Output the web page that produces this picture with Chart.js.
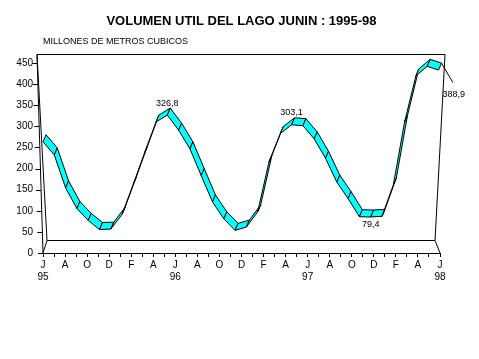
<!DOCTYPE html>
<html lang="es">
<head>
<meta charset="utf-8">
<title>Volumen util del lago Junin</title>
<script src="https://cdn.jsdelivr.net/npm/chart.js@4.4.1/dist/chart.umd.min.js"></script>
<style>
  html, body { margin: 0; padding: 0; background: #fff; }
  #wrap { width: 479px; height: 359px; }
</style>
</head>
<body>
<div id="wrap"><canvas id="grafico" width="479" height="359"></canvas></div>
<script>
// ─── datos ───────────────────────────────────────────────────────────────────
// meses de junio 1995 a junio 1998 (millones de m3)
const MES_LETRA = ['J', 'J', 'A', 'S', 'O', 'N', 'D', 'E', 'F', 'M', 'A', 'M']; // jun..may
const ANIOS = ['95', '96', '97', '98'];
const VOLUMEN = [
  262, 230, 150, 100, 71, 49, 50,          // jun-dic 95
  86, 160, 236, 310, 326.8, 290, 245, 180, 116, 75, 47, 55,   // ene-dic 96
  92, 213, 282, 303.1, 301, 269, 222, 164, 124, 80, 79.4, 81, // ene-dic 97
  157, 310, 422, 445, 436, 388.9,          // ene-jun 98
];
const Y_TICKS = [0, 50, 100, 150, 200, 250, 300, 350, 400, 450];
const MESES_CON_ETIQUETA = [11, 22, 29, 36];

const FUENTE = "'Liberation Sans', Arial, sans-serif";
const CIAN = '#00FFFF';

// ─── caja 3D + cinta ─────────────────────────────────────────────────────────
const px = (v) => Math.round(v) + 0.5;

const caja3d = {
  id: 'caja3d',
  beforeDatasetsDraw(chart) {
    const { ctx, chartArea: a, scales: { x, y } } = chart;
    const f0 = { x: x.getPixelForValue(0), y: y.getPixelForValue(0) };
    const f1 = { x: x.getPixelForValue(36), y: f0.y };
    const b0 = { x: f0.x + 4, y: f0.y - 13 };
    const b1 = { x: f1.x - 5, y: f1.y - 13 };
    const t0 = { x: f0.x - 6, y: a.top };
    const t1 = { x: f1.x + 5, y: a.top };

    ctx.save();
    ctx.strokeStyle = '#000';
    ctx.lineWidth = 1;
    ctx.beginPath();
    ctx.moveTo(f0.x, f0.y); ctx.lineTo(t0.x, px(t0.y)); ctx.lineTo(b0.x, px(b0.y)); ctx.lineTo(f0.x, f0.y);
    ctx.moveTo(t0.x, px(t0.y)); ctx.lineTo(t1.x, px(t1.y)); ctx.lineTo(b1.x, px(b1.y)); ctx.lineTo(f1.x, f1.y);
    ctx.moveTo(b0.x, px(b0.y)); ctx.lineTo(b1.x, px(b1.y));
    ctx.stroke();

    // marcas del eje y sobre la arista inclinada
    ctx.beginPath();
    y.ticks.forEach((t) => {
      const yy = y.getPixelForValue(t.value);
      const xe = f0.x + (t0.x - f0.x) * (f0.y - yy) / (f0.y - t0.y);
      ctx.moveTo(xe - 5, px(yy));
      ctx.lineTo(xe, px(yy));
    });
    ctx.stroke();
    ctx.restore();
  },
  afterDatasetsDraw(chart) {
    const { ctx } = chart;
    const pts = chart.getDatasetMeta(0).data;
    const DX = -3, DY = 7; // cara frontal de la cinta
    const n = pts.length;

    ctx.save();
    ctx.strokeStyle = '#000';
    ctx.fillStyle = CIAN;
    ctx.lineWidth = 1;
    ctx.lineJoin = 'round';
    for (let i = 0; i < n - 1; i++) {
      const p = pts[i], q = pts[i + 1];
      ctx.beginPath();
      if (i === n - 2) {
        ctx.moveTo(p.x, p.y);
        ctx.lineTo(q.x, q.y);
        ctx.stroke();
        continue;
      }
      ctx.moveTo(p.x, p.y);
      ctx.lineTo(q.x, q.y);
      ctx.lineTo(q.x + DX, q.y + DY);
      ctx.lineTo(p.x + DX, p.y + DY);
      ctx.closePath();
      ctx.fill();
      ctx.stroke();
    }

    // etiquetas de valores
    ctx.fillStyle = '#000';
    ctx.font = '9px ' + FUENTE;
    ctx.textAlign = 'center';
    ctx.textBaseline = 'middle';
    MESES_CON_ETIQUETA.forEach((i) => {
      const p = pts[i];
      const txt = VOLUMEN[i].toFixed(1).replace('.', ',');
      const prev = VOLUMEN[i - 1], next = VOLUMEN[i + 1];
      let lx = p.x - 3, ly;
      if (next === undefined) { lx = p.x + 1; ly = p.y + 12; }
      else if (VOLUMEN[i] >= prev && VOLUMEN[i] >= next) ly = p.y - 5;
      else ly = p.y + 15;
      ctx.fillText(txt, lx, ly);
    });
    ctx.restore();
  },
};

// ─── gráfico ─────────────────────────────────────────────────────────────────
Chart.defaults.color = '#000';
Chart.defaults.font.family = FUENTE;

new Chart(document.getElementById('grafico').getContext('2d'), {
  type: 'line',
  data: {
    datasets: [{
      label: 'Volumen util',
      data: VOLUMEN.map((v, i) => ({ x: i, y: v })),
      xAxisID: 'xd',
      yAxisID: 'yd',
      showLine: false,
      pointRadius: 0,
      pointHoverRadius: 0,
    }],
  },
  options: {
    responsive: false,
    animation: false,
    devicePixelRatio: 1,
    layout: { padding: { left: 0, right: 39, top: 0, bottom: 0 } },
    plugins: {
      legend: { display: false },
      tooltip: { enabled: false },
      title: {
        display: true,
        text: 'VOLUMEN UTIL DEL LAGO JUNIN : 1995-98',
        fullSize: false,
        font: { size: 13, weight: 'bold' },
        padding: { top: 14, bottom: 0 },
      },
      subtitle: {
        display: true,
        text: 'MILLONES DE METROS CUBICOS',
        fullSize: false,
        align: 'start',
        font: { size: 9 },
        padding: { top: 7, bottom: 6.6 },
      },
    },
    scales: {
      x: {
        type: 'linear',
        position: 'bottom',
        min: 0,
        max: 36,
        afterFit: (s) => { s.height = 106; },
        afterBuildTicks: (s) => { s.ticks = VOLUMEN.map((v, i) => ({ value: i })); },
        ticks: {
          autoSkip: false,
          maxRotation: 0,
          padding: 2,
          font: { size: 10 },
          callback: (v) => {
            if (v % 2) return '';
            const letra = MES_LETRA[v % 12];
            return v % 12 === 0 ? [letra, ANIOS[v / 12]] : letra;
          },
        },
        grid: { drawOnChartArea: false, drawTicks: true, tickLength: 4, color: '#000' },
        border: { display: true, color: '#000' },
      },
      y: {
        type: 'linear',
        position: 'left',
        min: 0,
        max: 471.3,
        afterFit: (s) => { s.width = 43; },
        afterBuildTicks: (s) => { s.ticks = Y_TICKS.map((v) => ({ value: v })); },
        ticks: { padding: 10, font: { size: 10 } },
        grid: { display: false, drawTicks: false },
        border: { display: false },
      },
      xd: { type: 'linear', display: false, min: -0.2655, max: 34.867 },
      yd: { type: 'linear', display: false, min: -25, max: 458 },
    },
  },
  plugins: [caja3d],
});
</script>
</body>
</html>
